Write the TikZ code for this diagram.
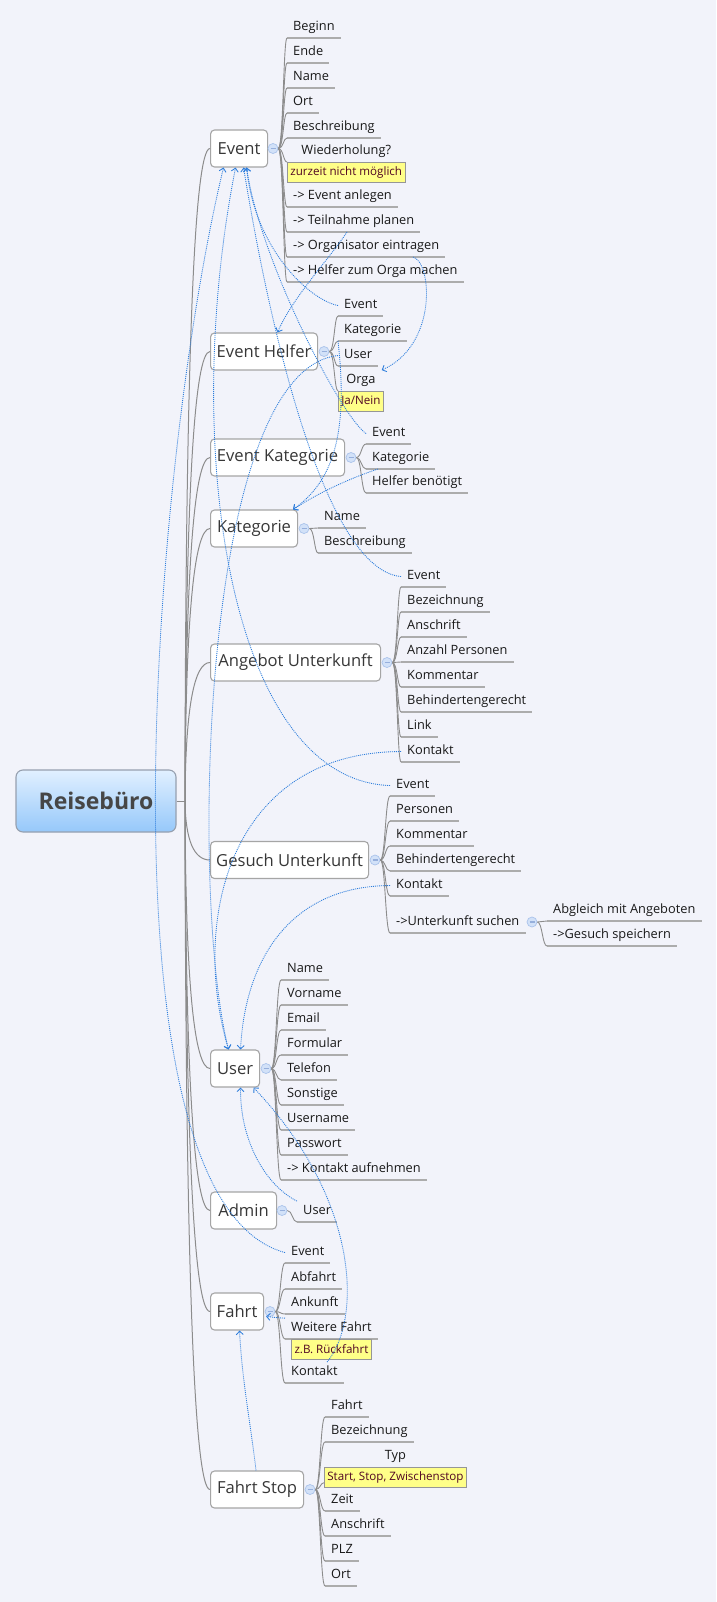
\documentclass[tikz,border=0pt]{standalone}
\usepackage{fontspec}
\setmainfont{Open Sans}
\usetikzlibrary{arrows.meta,calc}
\definecolor{bgc}{RGB}{242,243,250}
\definecolor{topicb}{RGB}{165,165,165}
\definecolor{topict}{RGB}{55,55,55}
\definecolor{leaft}{RGB}{25,25,25}
\definecolor{ulc}{RGB}{172,172,172}
\definecolor{connc}{RGB}{140,140,140}
\definecolor{calb}{RGB}{150,150,150}
\definecolor{calf}{RGB}{255,255,136}
\definecolor{calt}{RGB}{80,5,35}
\definecolor{collb}{RGB}{170,195,235}
\definecolor{collf}{RGB}{210,225,248}
\definecolor{collm}{RGB}{150,175,220}
\definecolor{relc}{RGB}{45,125,220}
\definecolor{rootT}{RGB}{225,240,255}
\definecolor{rootB}{RGB}{150,200,250}
\definecolor{rootb}{RGB}{150,160,175}
\definecolor{roott}{RGB}{70,70,70}
\newcommand{\leafnode}[5]{%
  \node[leaf] (#1) at (#2,#3) {#4};
  \draw[uline] (#1.south west) -- (#1.south east);
  \draw[conn] (#5.east) .. controls ($(#5.east)+(5,0)$) and ($(#5.east |- #1.south west)+(5,0)$) .. (#1.south west);}
\newcommand{\branchto}[2]{%
  \draw[conn] (#1.east) .. controls ($(#1.east)+(5,0)$) and ($(#1.east |- #2)+(5,0)$) .. (#2);}
\begin{document}
\begin{tikzpicture}[x=1pt,y=-1pt,
  root/.style={draw=rootb, line width=1.1pt, rounded corners=7pt, top color=rootT, bottom color=rootB, minimum width=160pt, minimum height=62pt, inner sep=0pt, font=\bfseries\fontsize{23}{27}\selectfont, text=roott},
  topic/.style={draw=topicb, line width=1.1pt, rounded corners=4pt, fill=white, minimum height=37pt, inner sep=0pt, font=\fontsize{16.6}{19}\selectfont, text=topict, anchor=west},
  leaf/.style={anchor=south west, inner xsep=6pt, inner ysep=4pt, text height=9.5pt, text depth=3pt, font=\fontsize{12.8}{15}\selectfont, text=leaft},
  uline/.style={draw=ulc, line width=1.3pt},
  conn/.style={draw=connc, line width=0.9pt},
  mainc/.style={draw=connc, line width=1pt},
  callout/.style={draw=calb, fill=calf, line width=0.7pt, inner xsep=3pt, inner ysep=0pt, minimum height=20pt, font=\fontsize{11.6}{13}\selectfont, text=calt},
  coll/.style={circle, minimum size=10pt, inner sep=0pt, draw=collb, fill=collf, line width=0.7pt,
    path picture={\draw[collm, line width=1.1pt] ([xshift=-2.5pt]path picture bounding box.center) -- ([xshift=2.5pt]path picture bounding box.center);}},
  rel/.style={draw=relc, line width=0.85pt, dash pattern=on 1pt off 1pt, -{Straight Barb[length=3.5pt,width=7pt]}}
]
\useasboundingbox (0,0) rectangle (716,1602);
\fill[bgc] (0,0) rectangle (716,1602);

% root and topics
\node[root] (root) at (96,801) {Reisebüro};
\coordinate (rj) at (185,801);
\node[topic, minimum width=57pt]  (ev) at (210,148.5) {Event};
\node[topic, minimum width=107pt] (eh) at (210,351.5) {Event Helfer};
\node[topic, minimum width=134pt] (ek) at (210,457.5) {Event Kategorie};
\node[topic, minimum width=87pt]  (ka) at (210,528.5) {Kategorie};
\node[topic, minimum width=170pt] (au) at (210,662.5) {Angebot Unterkunft};
\node[topic, minimum width=158pt] (gu) at (210,860) {Gesuch Unterkunft};
\node[topic, minimum width=49pt]  (us) at (210,1068.5) {User};
\node[topic, minimum width=66pt]  (ad) at (210,1210.5) {Admin};
\node[topic, minimum width=53pt]  (fa) at (210,1311.5) {Fahrt};
\node[topic, minimum width=93pt]  (fs) at (210,1489.5) {Fahrt Stop};

\draw[mainc] (root.east) -- (rj);
\foreach \t/\cy in {ev/148.5, eh/351.5, ek/457.5, ka/528.5, au/662.5, gu/860, us/1068.5, ad/1210.5, fa/1311.5, fs/1489.5}
  \draw[mainc] (rj) .. controls (185.5,{801+0.667*(\cy-801)}) and (194,\cy) .. (\t.west);

% collapse circles
\node[coll] (cev) at (273,148.5) {};
\node[coll] (ceh) at (324,351.5) {};
\node[coll] (cek) at (351,457.5) {};
\node[coll] (cka) at (304,528.5) {};
\node[coll] (cau) at (387,662.5) {};
\node[coll] (cgu) at (375,860) {};
\node[coll] (cus) at (266,1068.5) {};
\node[coll] (cad) at (282,1210.5) {};
\node[coll] (cfa) at (270,1311.5) {};
\node[coll] (cfs) at (310,1489.5) {};

% Event
\leafnode{ev1}{287}{38}{Beginn}{cev}
\leafnode{ev2}{287}{63}{Ende}{cev}
\leafnode{ev3}{287}{88}{Name}{cev}
\leafnode{ev4}{287}{113}{Ort}{cev}
\leafnode{ev5}{287}{138}{Beschreibung}{cev}
\node[callout, anchor=north west] (ev6c) at (287,162) {zurzeit nicht möglich};
\node[leaf, anchor=south] (ev6) at (ev6c.north) {Wiederholung?};
\branchto{cev}{ev6c.north west}
\leafnode{ev7}{287}{207}{-> Event anlegen}{cev}
\leafnode{ev8}{287}{232}{-> Teilnahme planen}{cev}
\leafnode{ev9}{287}{257}{-> Organisator eintragen}{cev}
\leafnode{ev10}{287}{282}{-> Helfer zum Orga machen}{cev}

% Event Helfer
\leafnode{eh1}{338}{316}{Event}{ceh}
\leafnode{eh2}{338}{341}{Kategorie}{ceh}
\leafnode{eh3}{338}{366}{User}{ceh}
\node[callout, anchor=north west] (eh4c) at (338,391) {Ja/Nein};
\node[leaf, anchor=south] (eh4) at (eh4c.north) {Orga};
\branchto{ceh}{eh4c.north west}

% Event Kategorie
\leafnode{ek1}{366}{444}{Event}{cek}
\leafnode{ek2}{366}{469}{Kategorie}{cek}
\leafnode{ek3}{366}{493}{Helfer benötigt}{cek}

% Kategorie
\leafnode{ka1}{318}{528}{Name}{cka}
\leafnode{ka2}{318}{553}{Beschreibung}{cka}

% Angebot Unterkunft
\leafnode{au1}{401}{587}{Event}{cau}
\leafnode{au2}{401}{612}{Bezeichnung}{cau}
\leafnode{au3}{401}{637}{Anschrift}{cau}
\leafnode{au4}{401}{662}{Anzahl Personen}{cau}
\leafnode{au5}{401}{687}{Kommentar}{cau}
\leafnode{au6}{401}{712}{Behindertengerecht}{cau}
\leafnode{au7}{401}{737}{Link}{cau}
\leafnode{au8}{401}{762}{Kontakt}{cau}

% Gesuch Unterkunft
\leafnode{gu1}{390}{796}{Event}{cgu}
\leafnode{gu2}{390}{821}{Personen}{cgu}
\leafnode{gu3}{390}{846}{Kommentar}{cgu}
\leafnode{gu4}{390}{871}{Behindertengerecht}{cgu}
\leafnode{gu5}{390}{896}{Kontakt}{cgu}
\leafnode{gu6}{390}{933}{->Unterkunft suchen}{cgu}
\node[coll] (cgu6) at (532,922) {};
\leafnode{gu7}{547}{921}{Abgleich mit Angeboten}{cgu6}
\leafnode{gu8}{547}{946}{->Gesuch speichern}{cgu6}

% User
\leafnode{us1}{281}{980}{Name}{cus}
\leafnode{us2}{281}{1005}{Vorname}{cus}
\leafnode{us3}{281}{1030}{Email}{cus}
\leafnode{us4}{281}{1055}{Formular}{cus}
\leafnode{us5}{281}{1080}{Telefon}{cus}
\leafnode{us6}{281}{1105}{Sonstige}{cus}
\leafnode{us7}{281}{1130}{Username}{cus}
\leafnode{us8}{281}{1155}{Passwort}{cus}
\leafnode{us9}{281}{1180}{-> Kontakt aufnehmen}{cus}

% Admin
\leafnode{ad1}{297}{1222}{User}{cad}

% Fahrt
\leafnode{fa1}{285}{1263}{Event}{cfa}
\leafnode{fa2}{285}{1289}{Abfahrt}{cfa}
\leafnode{fa3}{285}{1314}{Ankunft}{cfa}
\leafnode{fa4}{285}{1339}{Weitere Fahrt}{cfa}
\node[callout, anchor=north] (fa4c) at (fa4.south) {z.B. Rückfahrt};
\leafnode{fa5}{285}{1383}{Kontakt}{cfa}

% Fahrt Stop
\leafnode{fs1}{325}{1417}{Fahrt}{cfs}
\leafnode{fs2}{325}{1442}{Bezeichnung}{cfs}
\node[callout, anchor=north west] (fs3c) at (324,1467) {Start, Stop, Zwischenstop};
\node[leaf, anchor=south] (fs3) at (fs3c.north) {Typ};
\coordinate (fs3j) at ($(fs3c.south west)+(0,-5)$);
\branchto{cfs}{fs3j}
\leafnode{fs4}{325}{1511}{Zeit}{cfs}
\leafnode{fs5}{325}{1536}{Anschrift}{cfs}
\leafnode{fs6}{325}{1561}{PLZ}{cfs}
\leafnode{fs7}{325}{1586}{Ort}{cfs}

% relationships
\draw[rel] (eh1.west) .. controls (310,300) and (255,250) .. ([xshift=7.5pt]ev.south);
\draw[rel] ([xshift=60pt]ev8.south west) .. controls (330,258) and (292,298) .. ([xshift=13.5pt]eh.north);
\draw[rel] ([xshift=126pt]ev9.south west) .. controls (432,262) and (438,345) .. (eh4.north east);
\draw[rel] (eh2.south west) .. controls (348,430) and (335,480) .. ([xshift=-5pt]ka.north east);
\draw[rel] (eh3.west) .. controls (200,370) and (190,900) .. ([xshift=-6.5pt]us.north);
\draw[rel] (ek1.west) .. controls (340,415) and (260,260) .. ([xshift=7.5pt]ev.south);
\draw[rel] ([xshift=12pt]ek2.south west) .. controls (345,480) and (315,495) .. ([xshift=-5pt]ka.north east);
\draw[rel] (au1.west) .. controls (330,570) and (275,360) .. ([xshift=4.5pt]ev.south);
\draw[rel] (au8.west) .. controls (230,752) and (190,920) .. ([xshift=-6.5pt]us.north);
\draw[rel] (gu1.west) .. controls (230,780) and (180,450) .. ([xshift=-3.5pt]ev.south);
\draw[rel] (gu5.west) .. controls (290,886) and (245,960) .. ([xshift=5.5pt]us.north);
\draw[rel] (ad1.north west) .. controls (265,1185) and (240,1140) .. ([xshift=5.5pt]us.south);
\draw[rel] (fa1.west) .. controls (90,1200) and (155,450) .. ([xshift=-15.5pt]ev.south);
\draw[rel] ([xshift=42pt]fa5.north west) .. controls (362,1320) and (360,1200) .. ([xshift=18.5pt]us.south);
\draw[rel] (fa4.north west) .. controls (278,1318) and (272,1317) .. ([xshift=2pt,yshift=-5pt]fa.east);
\draw[rel] ([xshift=-1pt]fs.north) .. controls (250,1420) and (242,1380) .. ([xshift=2.5pt]fa.south);
\end{tikzpicture}
\end{document}
